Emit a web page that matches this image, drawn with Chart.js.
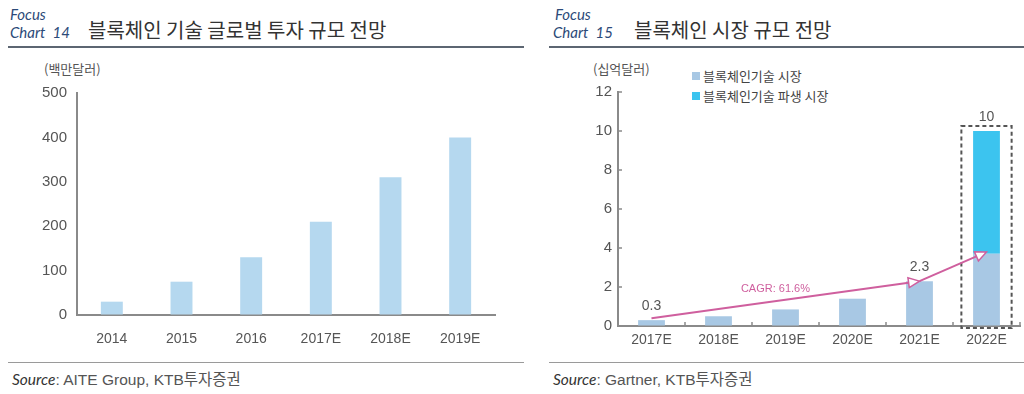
<!DOCTYPE html>
<html>
<head>
<meta charset="utf-8">
<script src="https://cdn.jsdelivr.net/npm/chart.js@4"></script>
<style>
  body { margin: 0; background: #fff; width: 1024px; height: 394px; position: relative; overflow: hidden;
         font-family: "Noto Sans CJK KR", sans-serif; }
  .abs { position: absolute; white-space: nowrap; }
  .focus { font-family: Lato, sans-serif; font-style: italic; color: #2c4a78; font-size: 15px; line-height: 16px; }
  .title { font-size: 20px; color: #333; line-height: 22px; }
  .rule { position: absolute; height: 2px; background: #5c6672; }
  .rule2 { position: absolute; height: 1px; background: #9a9a9a; }
  .src { font-family: "Liberation Sans", sans-serif; font-size: 15.5px; color: #555; }
  .src i { color: #333; font-family: Lato, sans-serif; }
  .src span { font-family: "Noto Sans CJK KR", sans-serif; }
  .unit { font-size: 13px; color: #555; }
  .leg { font-size: 13px; color: #444; }
  .leg b { display: inline-block; width: 8px; height: 8px; margin-right: 3px; vertical-align: 1px; }
  canvas { position: absolute; }
</style>
</head>
<body>
<div class="abs focus" style="left:10px;top:6px;">Focus</div>
<div class="abs focus" style="left:10px;top:24px;">Chart&nbsp; 14</div>
<div class="abs title" style="left:88px;top:19px;">블록체인 기술 글로벌 투자 규모 전망</div>
<div class="rule" style="left:8px;top:46px;width:516px;"></div>

<div class="abs focus" style="left:555px;top:6px;">Focus</div>
<div class="abs focus" style="left:553px;top:24px;">Chart&nbsp; 15</div>
<div class="abs title" style="left:634px;top:19px;">블록체인 시장 규모 전망</div>
<div class="rule" style="left:549px;top:46px;width:475px;"></div>

<div class="abs unit" style="left:44px;top:59px;">(백만달러)</div>
<div class="abs unit" style="left:593px;top:59px;">(십억달러)</div>
<div class="abs leg" id="legend" style="left:692px;top:66px;line-height:20px;"></div>

<canvas id="left" width="512" height="300" style="left:0;top:55px;"></canvas>
<canvas id="right" width="512" height="300" style="left:512px;top:55px;"></canvas>

<div class="rule2" style="left:8px;top:362px;width:516px;"></div>
<div class="rule2" style="left:549px;top:362px;width:475px;"></div>
<div class="abs src" style="left:12px;top:367px;"><i>Source</i>: AITE Group, KTB<span>투자증권</span></div>
<div class="abs src" style="left:553px;top:367px;"><i>Source</i>: Gartner, KTB<span>투자증권</span></div>

<script>
// Chart 14 data
const investYears = ['2014', '2015', '2016', '2017E', '2018E', '2019E'];
const investValues = [30, 75, 130, 210, 310, 400];

// Chart 15 data
const marketYears = ['2017E', '2018E', '2019E', '2020E', '2021E', '2022E'];
const coreMarket = [0.3, 0.5, 0.85, 1.4, 2.3, 3.7];
const derivedMarket = [0, 0, 0, 0, 0, 6.3];
const totalLabels = ['0.3', '', '', '', '2.3', '10'];
const seriesNames = ['블록체인기술 시장', '블록체인기술 파생 시장'];
// CAGR arrows in data units: [fromIndex, fromValue, toIndex, toValue]
const cagrArrows = [[0, 0.4, 4, 2.3], [4, 2.3, 5, 3.8]];
const cagrText = 'CAGR: 61.6%';
const cagrPos = [1.85, 1.9];

const axisColor = '#8a8a8a';
const tickFont = { family: 'Liberation Sans', size: 15 };
const catFont = { family: 'Liberation Sans', size: 14 };
const lightBlue = '#b5d8ef';
const steelBlue = '#a8c8e4';
const cyan = '#3cc4ef';

new Chart(document.getElementById('left'), {
    type: 'bar',
    data: {
        labels: investYears,
        datasets: [{ data: investValues, backgroundColor: lightBlue, barPercentage: 0.315, categoryPercentage: 1 }]
    },
    options: {
        responsive: false,
        animation: false,
        layout: { padding: { top: 38, right: 17, left: 0, bottom: 0 } },
        plugins: { legend: { display: false }, tooltip: { enabled: false } },
        scales: {
            x: {
                grid: { drawOnChartArea: false, drawTicks: false },
                border: { color: axisColor, width: 2 },
                ticks: { color: '#555', font: catFont, padding: 16 },
                afterFit: s => { s.height = 40; }
            },
            y: {
                min: 0, max: 500,
                grid: { drawOnChartArea: false, drawTicks: false },
                border: { color: axisColor, width: 2 },
                ticks: { stepSize: 100, color: '#555', font: tickFont, padding: 10 },
                afterFit: s => { s.width = 77; }
            }
        }
    }
});

const annotate = {
    id: 'annotate',
    afterDatasetsDraw(chart) {
        const { ctx, scales: { x, y } } = chart;
        ctx.save();
        // inside tick marks
        ctx.strokeStyle = axisColor;
        ctx.lineWidth = 1.5;
        y.ticks.forEach(t => {
            const py = y.getPixelForValue(t.value);
            ctx.beginPath(); ctx.moveTo(x.left, py); ctx.lineTo(x.left + 4, py); ctx.stroke();
        });
        for (let i = 0; i < marketYears.length; i++) {
            const px = x.getPixelForValue(i + 0.5);
            ctx.beginPath(); ctx.moveTo(px, y.bottom); ctx.lineTo(px, y.bottom - 4); ctx.stroke();
        }
        // total labels
        ctx.fillStyle = '#555';
        ctx.font = '14px "Liberation Sans"';
        ctx.textAlign = 'center';
        ctx.textBaseline = 'bottom';
        totalLabels.forEach((lab, i) => {
            if (!lab) return;
            const total = coreMarket[i] + derivedMarket[i];
            ctx.fillText(lab, x.getPixelForValue(i), y.getPixelForValue(total) - 7);
        });
        // dashed highlight box around last bar
        const last = marketYears.length - 1;
        const half = (x.getPixelForValue(1) - x.getPixelForValue(0)) * 0.375;
        const cx = x.getPixelForValue(last);
        const top = y.getPixelForValue(10.26);
        ctx.strokeStyle = '#555';
        ctx.lineWidth = 2;
        ctx.setLineDash([4, 3]);
        ctx.strokeRect(cx - half, top, half * 2, y.bottom + 2 - top);
        ctx.setLineDash([]);
        // CAGR arrows
        const pink = '#cf5f9e';
        cagrArrows.forEach(([i0, v0, i1, v1]) => {
            const x0 = x.getPixelForValue(i0), y0 = y.getPixelForValue(v0);
            const x1 = x.getPixelForValue(i1), y1 = y.getPixelForValue(v1);
            const ang = Math.atan2(y1 - y0, x1 - x0);
            const len = 11, w = 5;
            const bx = x1 - len * Math.cos(ang), by = y1 - len * Math.sin(ang);
            ctx.strokeStyle = pink;
            ctx.lineWidth = 2;
            ctx.beginPath(); ctx.moveTo(x0, y0); ctx.lineTo(bx, by); ctx.stroke();
            ctx.beginPath();
            ctx.moveTo(x1, y1);
            ctx.lineTo(bx + w * Math.sin(ang), by - w * Math.cos(ang));
            ctx.lineTo(bx - w * Math.sin(ang), by + w * Math.cos(ang));
            ctx.closePath();
            ctx.fillStyle = '#fff';
            ctx.fill();
            ctx.lineWidth = 1.5;
            ctx.stroke();
        });
        ctx.fillStyle = pink;
        ctx.font = '11px "Liberation Sans"';
        ctx.textBaseline = 'middle';
        ctx.fillText(cagrText, x.getPixelForValue(cagrPos[0]), y.getPixelForValue(cagrPos[1]));
        ctx.restore();
    }
};

new Chart(document.getElementById('right'), {
    type: 'bar',
    data: {
        labels: marketYears,
        datasets: [
            { label: seriesNames[0], data: coreMarket, backgroundColor: steelBlue, barPercentage: 0.4, categoryPercentage: 1 },
            { label: seriesNames[1], data: derivedMarket, backgroundColor: cyan, barPercentage: 0.4, categoryPercentage: 1 }
        ]
    },
    options: {
        responsive: false,
        animation: false,
        layout: { padding: { top: 37, right: 4, left: 0, bottom: 0 } },
        plugins: { legend: { display: false }, tooltip: { enabled: false } },
        scales: {
            x: {
                stacked: true,
                grid: { drawOnChartArea: false, drawTicks: false },
                border: { color: axisColor, width: 2 },
                ticks: { color: '#555', font: catFont, padding: 6 },
                afterFit: s => { s.height = 29; }
            },
            y: {
                stacked: true,
                min: 0, max: 12,
                grid: { drawOnChartArea: false, drawTicks: false },
                border: { color: axisColor, width: 2 },
                ticks: { stepSize: 2, color: '#555', font: tickFont, padding: 6 },
                afterFit: s => { s.width = 106; }
            }
        }
    },
    plugins: [annotate]
});

// HTML legend built from the series names
const legColors = [steelBlue, cyan];
document.getElementById('legend').innerHTML = seriesNames
    .map((n, i) => `<div><b style="background:${legColors[i]}"></b>${n}</div>`).join('');
</script>
</body>
</html>
